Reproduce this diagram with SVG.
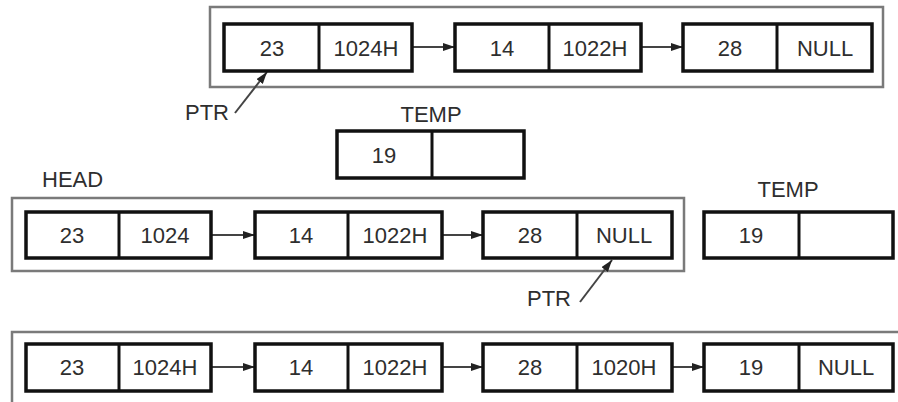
<svg xmlns="http://www.w3.org/2000/svg" width="898" height="402" viewBox="0 0 898 402">
<style>
.frame{fill:none;stroke:#7a7a7a;stroke-width:2.5}
.box{fill:#fff;stroke:#111;stroke-width:3.5}
.div{stroke:#111;stroke-width:3}
.t{font-family:"Liberation Sans",Arial,sans-serif;font-size:22px;fill:#2e2e2e;text-anchor:middle}
.lbl{font-family:"Liberation Sans",Arial,sans-serif;font-size:22px;fill:#2e2e2e}
.c{stroke:#444;stroke-width:2;fill:none}
</style>
<defs>
<marker id="ah" viewBox="0 0 12 8" refX="12" refY="4" markerWidth="12" markerHeight="8" markerUnits="userSpaceOnUse" orient="auto">
<path d="M0,0 L12,4 L0,8 Z" fill="#222"/>
</marker>
</defs>
<rect width="898" height="402" fill="#fff"/>
<g id="frames">
<rect class="frame" x="210" y="7" width="673" height="80"/>
<rect class="frame" x="12" y="198" width="672" height="73"/>
<rect class="frame" x="12" y="332" width="900" height="90"/>
</g>
<g id="labels">
<text class="t" x="431" y="122">TEMP</text>
<text class="lbl" x="42" y="187">HEAD</text>
<text class="t" x="788" y="197">TEMP</text>
<text class="lbl" x="185" y="120">PTR</text>
<text class="lbl" x="527" y="306">PTR</text>
</g>
<g id="connectors">
<line class="c" x1="412" y1="47" x2="455" y2="47" marker-end="url(#ah)"/>
<line class="c" x1="641" y1="47" x2="683" y2="47" marker-end="url(#ah)"/>
<line class="c" x1="211" y1="235" x2="255" y2="235" marker-end="url(#ah)"/>
<line class="c" x1="442" y1="235" x2="483" y2="235" marker-end="url(#ah)"/>
<line class="c" x1="211" y1="367" x2="255" y2="367" marker-end="url(#ah)"/>
<line class="c" x1="442" y1="367" x2="483" y2="367" marker-end="url(#ah)"/>
<line class="c" x1="672" y1="367" x2="704" y2="367" marker-end="url(#ah)"/>
<line class="c" stroke-width="1.5" x1="235" y1="113" x2="267" y2="72" marker-end="url(#ah)"/>
<line class="c" stroke-width="1.5" x1="580" y1="302" x2="612" y2="260" marker-end="url(#ah)"/>
</g>
<g id="n1a"><rect class="box" x="224" y="24" width="188" height="47"/><line class="div" x1="319" y1="24" x2="319" y2="71"/><text class="t" x="272" y="56">23</text><text class="t" x="366" y="56">1024H</text></g>
<g id="n1b"><rect class="box" x="455" y="24" width="186" height="47"/><line class="div" x1="549" y1="24" x2="549" y2="71"/><text class="t" x="502" y="56">14</text><text class="t" x="595" y="56">1022H</text></g>
<g id="n1c"><rect class="box" x="683" y="24" width="189" height="47"/><line class="div" x1="777" y1="24" x2="777" y2="71"/><text class="t" x="730" y="56">28</text><text class="t" x="825" y="56">NULL</text></g>
<g id="temp1"><rect class="box" x="337" y="131" width="187" height="47"/><line class="div" x1="432" y1="131" x2="432" y2="178"/><text class="t" x="384" y="163">19</text></g>
<g id="n2a"><rect class="box" x="26" y="212" width="185" height="46"/><line class="div" x1="119" y1="212" x2="119" y2="258"/><text class="t" x="72" y="243">23</text><text class="t" x="165" y="243">1024</text></g>
<g id="n2b"><rect class="box" x="255" y="212" width="187" height="46"/><line class="div" x1="348" y1="212" x2="348" y2="258"/><text class="t" x="301" y="243">14</text><text class="t" x="395" y="243">1022H</text></g>
<g id="n2c"><rect class="box" x="483" y="212" width="189" height="46"/><line class="div" x1="577" y1="212" x2="577" y2="258"/><text class="t" x="530" y="243">28</text><text class="t" x="624" y="243">NULL</text></g>
<g id="temp2"><rect class="box" x="704" y="212" width="189" height="46"/><line class="div" x1="799" y1="212" x2="799" y2="258"/><text class="t" x="751" y="243">19</text></g>
<g id="n3a"><rect class="box" x="26" y="344" width="185" height="47"/><line class="div" x1="119" y1="344" x2="119" y2="391"/><text class="t" x="72" y="375">23</text><text class="t" x="165" y="375">1024H</text></g>
<g id="n3b"><rect class="box" x="255" y="344" width="187" height="47"/><line class="div" x1="348" y1="344" x2="348" y2="391"/><text class="t" x="301" y="375">14</text><text class="t" x="395" y="375">1022H</text></g>
<g id="n3c"><rect class="box" x="483" y="344" width="189" height="47"/><line class="div" x1="577" y1="344" x2="577" y2="391"/><text class="t" x="530" y="375">28</text><text class="t" x="624" y="375">1020H</text></g>
<g id="n3d"><rect class="box" x="704" y="344" width="189" height="47"/><line class="div" x1="799" y1="344" x2="799" y2="391"/><text class="t" x="751" y="375">19</text><text class="t" x="846" y="375">NULL</text></g>
</svg>
